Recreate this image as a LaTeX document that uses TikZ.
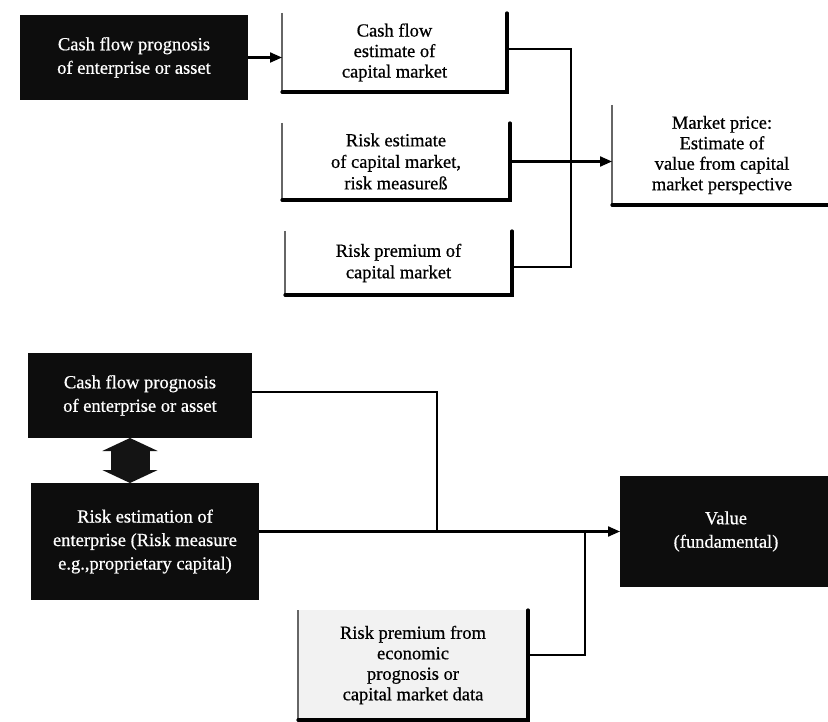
\documentclass[tikz,border=0pt]{standalone}
\usepackage{fontspec}
\setmainfont{Liberation Serif}[FakeBold=0.6]
\usetikzlibrary{arrows.meta}
\begin{document}
\begin{tikzpicture}[x=1pt,y=-1pt,
  every node/.style={inner sep=0pt, outer sep=0pt},
  darkbox/.style={fill=black!95, text=white, align=center, font=\fontsize{18.5}{23.5}\selectfont},
  lightbox/.style={align=center, font=\fontsize{18.5}{21.5}\selectfont},
  side/.style={line width=1.5pt, black!60},
  heavy edge/.style={line width=3.2pt, black, line cap=round},
  conn/.style={line width=2.1pt, black},
  tip/.style={-{Triangle[length=12pt,width=10pt]}},
  bigarrow/.style={line width=39pt, black!92,
    {Triangle[length=13pt,width=55pt]}-{Triangle[length=13pt,width=55pt]}}
]
% page
\fill[white] (0,0) rectangle (828,722);
\useasboundingbox (0,0) rectangle (828,722);

% ---------- capital market view ----------
\node[darkbox, minimum width=228pt, minimum height=85pt] (A) at (134,57.5)
  {Cash flow prognosis\\of enterprise or asset};
\node[lightbox, minimum width=225pt, minimum height=79pt,
  font=\fontsize{18.5}{20.5}\selectfont] (B) at (394.5,52.5)
  {Cash flow\\estimate of\\capital market};
\node[lightbox, minimum width=228pt, minimum height=77pt] (C) at (396,161.5)
  {Risk estimate\\of capital market,\\risk measureß};
\node[lightbox, minimum width=227pt, minimum height=64pt] (D) at (398.5,263)
  {Risk premium of\\capital market};
\node[lightbox, minimum width=220pt, minimum height=100pt,
  font=\fontsize{18.5}{20.5}\selectfont] (E) at (722,155)
  {Market price:\\Estimate of\\value from capital\\market perspective};

% open frames: thin left side, heavy bottom and right side
\foreach \b in {B,C,D} {
  \draw[side] (\b.north west) -- (\b.south west);
  \draw[heavy edge] (\b.south west) -- (\b.south east) -- (\b.north east);
}
\draw[side] (E.north west) -- (E.south west);
\draw[heavy edge] (E.south west) -- ([xshift=20pt]E.south east);

% connectors
\coordinate (busA) at (571,49);
\coordinate (busB) at (571,267);
\draw[conn, tip] (A.east) -- (A.east -| B.west);
\draw[conn] ([yshift=3.5pt]B.east) -- (busA) -- (busB) -- (busB -| D.east);
\draw[conn, tip] (C.east) -- (C.east -| E.west);

% ---------- fundamental view ----------
\node[darkbox, minimum width=224pt, minimum height=85pt] (F) at (140,395.5)
  {Cash flow prognosis\\of enterprise or asset};
\node[darkbox, minimum width=228pt, minimum height=117pt] (G) at (145,541.5)
  {Risk estimation of\\enterprise (Risk measure\\e.g.,proprietary capital)};
\node[darkbox, minimum width=212pt, minimum height=111pt] (I) at (726,531.5)
  {Value\\(fundamental)};
\node[lightbox, fill=black!5, minimum width=230pt, minimum height=110pt,
  font=\fontsize{18.5}{20.5}\selectfont] (H) at (413,665)
  {Risk premium from\\economic\\prognosis or\\capital market data};
\draw[side] (H.north west) -- (H.south west);
\draw[heavy edge] (H.south west) -- (H.south east) -- (H.north east);

% interaction between cash flow and risk
\draw[bigarrow] ([xshift=-10pt]F.south) -- ([xshift=-10pt]F.south |- G.north);

% connectors
\coordinate (busC) at (437,392);
\coordinate (busD) at (585,655);
\draw[conn] ([yshift=3.5pt]F.east) -- (busC) -- (busC |- I.west);
\draw[conn, tip] (G.east |- I.west) -- (I.west);
\draw[conn] ([yshift=10pt]H.east) -- (busD) -- (busD |- I.west);
\end{tikzpicture}
\end{document}
